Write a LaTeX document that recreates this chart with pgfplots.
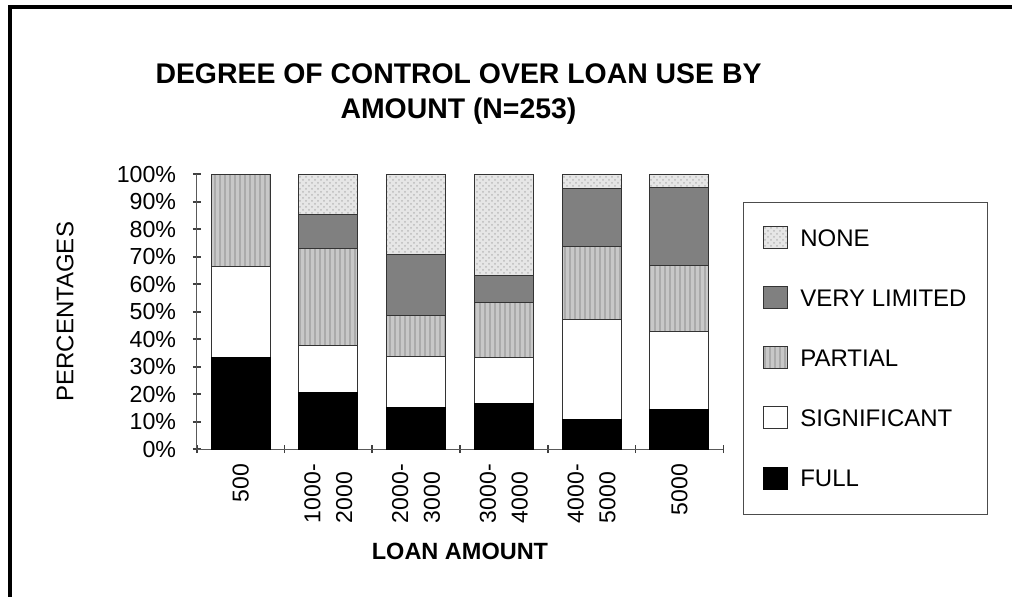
\documentclass[border=0pt]{standalone}
\usepackage{fontspec}
\setmainfont{Liberation Sans}
\usepackage{pgfplots}
\pgfplotsset{compat=1.18}
\usetikzlibrary{patterns,patterns.meta}

\definecolor{vlgray}{HTML}{808080}
\definecolor{partfill}{HTML}{C8C8C8}
\definecolor{partline}{HTML}{ABABAB}
\definecolor{nonefill}{HTML}{E6E6E6}
\definecolor{nonedot}{HTML}{BBBBBB}

\pgfplotsset{sqlegend/.style={legend image code/.code={\draw[##1, line width=0.5pt] (0pt,-1.2pt) rectangle (12pt,9.8pt);}}}

\begin{document}
\begin{tikzpicture}
\useasboundingbox (0,0) rectangle (506pt,298.5pt);
\draw[line width=2pt] (4.85pt,0pt) -- (4.85pt,295pt) -- (506pt,295pt);
\node[anchor=base, inner sep=0pt, font=\fontsize{14.2}{17}\selectfont\bfseries] at (229.25pt,256.85pt) {DEGREE OF CONTROL OVER LOAN USE BY};
\node[anchor=base, inner sep=0pt, font=\fontsize{14.2}{17}\selectfont\bfseries] at (229.25pt,239.35pt) {AMOUNT (N=253)};
\node[rotate=90, anchor=base, inner sep=0pt, font=\fontsize{12}{14}\selectfont] at (36.65pt,142.6pt) {PERCENTAGES};
\node[anchor=base, inner sep=0pt, font=\fontsize{11.75}{14}\selectfont\bfseries] at (230pt,18.85pt) {LOAN AMOUNT};
\draw[black!70, line width=0.5pt] (371.65pt,41pt) rectangle (493.65pt,197.35pt);

\begin{axis}[
  at={(98.35pt,73.85pt)}, anchor=south west,
  scale only axis, width=263.3pt, height=137.5pt,
  xmin=-0.5, xmax=5.5, ymin=0, ymax=100,
  ybar stacked, bar width=29.5pt,
  axis lines=left,
  axis line style={-, black!65, line width=0.7pt},
  xtick={-0.5,0.5,1.5,2.5,3.5,4.5,5.5},
  x tick label as interval,
  xticklabels={500,{1000-\\2000},{2000-\\3000},{3000-\\4000},{4000-\\5000},5000},
  ytick={0,10,20,30,40,50,60,70,80,90,100},
  yticklabels={0\%,10\%,20\%,30\%,40\%,50\%,60\%,70\%,80\%,90\%,100\%},
  tick align=center,
  major tick length=3.8pt,
  tick style={black!75, line width=0.8pt},
  x tick style={black!75, line width=0.8pt},
  /pgf/number format/assume math mode=true,
  xticklabel style={rotate=90, anchor=east, align=left, inner xsep=5.35pt, inner ysep=0pt, font=\fontsize{11.5}{15.85}\selectfont},
  yticklabel style={inner xsep=0pt, xshift=-8.2pt, font=\fontsize{11.6}{14}\selectfont},
  reverse legend,
  legend cell align=left,
  legend style={draw=none, fill=none, inner sep=0pt, outer sep=0pt,
    at={(axis description cs:1.076,0.8113)}, anchor=north west,
    row sep=18.5pt, column sep=6pt,
    nodes={inner sep=0pt, anchor=base west, font=\fontsize{12}{14}\selectfont}},
]
\addplot[sqlegend, fill=black, draw=black, line width=0.5pt] coordinates {(0,33.3) (1,20.7) (2,15.1) (3,16.6) (4,10.7) (5,14.3)};
\addlegendentry{FULL}
\addplot[sqlegend, fill=white, draw=black!80, line width=0.5pt] coordinates {(0,33.3) (1,17.1) (2,18.6) (3,16.7) (4,36.6) (5,28.5)};
\addlegendentry{SIGNIFICANT}
\addplot[sqlegend, fill=partfill, draw=black!80, line width=0.5pt, postaction={pattern={Lines[angle=90,distance=2.5pt,line width=1.1pt]}, pattern color=partline}] coordinates {(0,33.4) (1,35.3) (2,15.1) (3,20.0) (4,26.3) (5,23.9)};
\addlegendentry{PARTIAL}
\addplot[sqlegend, fill=vlgray, draw=black!80, line width=0.5pt] coordinates {(0,0) (1,12.4) (2,22.1) (3,10.0) (4,21.2) (5,28.4)};
\addlegendentry{VERY LIMITED}
\addplot[sqlegend, fill=nonefill, draw=black!80, line width=0.5pt, postaction={pattern=crosshatch dots, pattern color=nonedot}] coordinates {(0,0) (1,14.5) (2,29.1) (3,36.7) (4,5.2) (5,4.9)};
\addlegendentry{NONE}
\end{axis}
\end{tikzpicture}
\end{document}
